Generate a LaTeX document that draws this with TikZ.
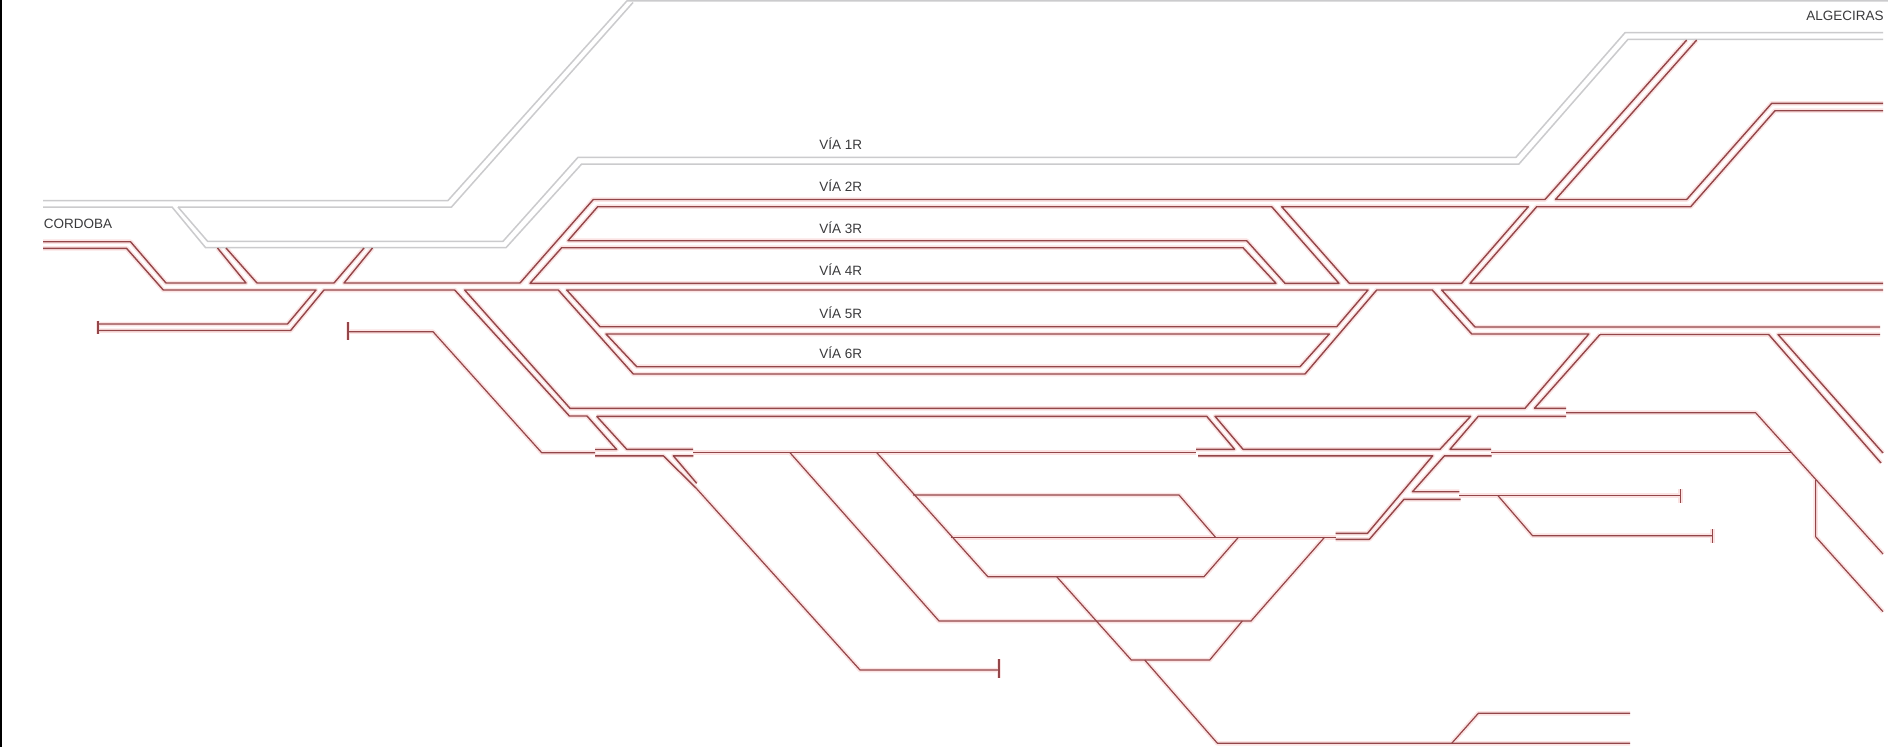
\documentclass[tikz,border=0pt]{standalone}
\usepackage{fontspec}
\setmainfont{Liberation Sans}
\definecolor{railc}{HTML}{934649}
\definecolor{railh}{HTML}{FBE3E3}
\definecolor{greyc}{HTML}{CBCBCD}
\definecolor{texc}{HTML}{3A3A3C}
\pgfdeclarelayer{halolayer}
\pgfsetlayers{halolayer,main}
\tikzset{
  rail/.style={draw=railc,line width=1.4pt,line join=round},
  thin rail/.style={draw=railc,line width=1.2pt,line join=round},
  halo/.style={draw=railh,line width=4.5pt,line join=round},
  grey rail/.style={draw=greyc,line width=1.5pt,line join=round},
  lab/.style={font=\fontsize{13.5}{14}\selectfont,text=texc,inner sep=0pt}
}
\newcommand\trk[1]{\begin{pgfonlayer}{halolayer}\path[halo] #1;\end{pgfonlayer}\path[rail] #1;}
\newcommand\sgl[1]{\begin{pgfonlayer}{halolayer}\path[halo] #1;\end{pgfonlayer}\path[thin rail] #1;}
\begin{document}
\begin{tikzpicture}[x=1pt,y=-1pt]
\useasboundingbox (0,0) rectangle (1888,747);
\begin{pgfonlayer}{halolayer}
\fill[white] (0,0) rectangle (1888,747);
\end{pgfonlayer}
\draw[black,line width=2.5pt] (0.8,0) -- (0.8,747);
% grey tracks
\path[grey rail] (43,200.5) -- (448,200.5) -- (627,0.8) -- (1888,0.8);
\path[grey rail] (178,207) -- (451.5,207) -- (633,2.5);
\path[grey rail] (43,207) -- (172,207) -- (205.6,247.7) -- (506,247.7) -- (581.7,164) -- (1519,164) -- (1628,39.3) -- (1883,39.3);
\path[grey rail] (178,207) -- (207.6,241.3) -- (503,241.3) -- (578,157.3) -- (1516,157.3) -- (1625,32.7) -- (1883,32.7);
% main left
\trk{(43,241.7) -- (130.5,241.7) -- (166,283) -- (246,283) -- (217.5,248)}
\trk{(226,248) -- (257,283) -- (334,283) -- (364,248)}
\trk{(372.5,248) -- (344,283) -- (520,283) -- (593.3,199.5) -- (1545,199.5) -- (1686.7,40)}
\trk{(43,248.3) -- (126.5,248.3) -- (163.3,290) -- (316,290) -- (287.5,324) -- (98,324)}
\trk{(98,330.5) -- (290.6,330.5) -- (324,290) -- (454.7,290) -- (569.4,416) -- (587,416) -- (616.7,449.5) -- (595,449.5)}
\trk{(98,320.5) -- (98,333.5)}
% station tracks
\trk{(597.7,206.7) -- (1271.7,206.7) -- (1339,283.3) -- (1285,283.3) -- (1246.7,240.7) -- (568,240.7) -- cycle}
\trk{(561.7,247.7) -- (1243,247.7) -- (1276,283.3) -- (530,283.3) -- cycle}
\trk{(1281.7,206.7) -- (1349.3,283.3) -- (1461.7,283.3) -- (1528.3,206.7) -- cycle}
\trk{(1883,283.3) -- (1470,283.3) -- (1536.7,206.7) -- (1555,206.7)  -- (1690.7,206.7) -- (1775,110.7) -- (1883,110.7)}
\trk{(1696.7,40) -- (1555.5,199.5) -- (1686.7,199.5) -- (1771.7,103.3) -- (1883,103.3)}
\trk{(464.6,290) -- (558.3,290) -- (633.3,374) -- (1305,374) -- (1376.7,290) -- (1432.3,290) -- (1471.7,334) -- (1588.8,334) -- (1525,408.3) -- (570,408.3) -- cycle}
\trk{(566.7,290) -- (1368,290) -- (1336.7,326.7) -- (600,326.7) -- cycle}
\trk{(606,334) -- (1329.3,334) -- (1300,366.7) -- (636.7,366.7) -- cycle}
\trk{(1883,290) -- (1441.7,290) -- (1475,327) -- (1880,327)}
\trk{(1880,334.5) -- (1778,334.5) -- (1883,453)}
\trk{(1600,334.5) -- (1768.7,334.5) -- (1881,463)}
\trk{(1600,334.5) -- (1534.4,408.3) -- (1566,408.3)}
\trk{(1566,416.3) -- (1478.3,416.3) -- (1450,449.3) -- (1491,449.3)}
\trk{(596.7,416.3) -- (626.7,449.3) -- (693,449.3)}
\trk{(596.7,416.3) -- (1206.7,416.3) -- (1234.6,449.3) -- (1196,449.3)}
\trk{(1215,416.3) -- (1470.6,416.3) -- (1440,449.3) -- (1243,449.3) -- cycle}
\trk{(595,455.8) -- (663.3,455.8) -- (696,488)}
\trk{(693.3,455.8) -- (673.3,455.8) -- (696.7,483.3)}
\trk{(1198,455.8) -- (1432.7,455.8) -- (1367.5,533.3) -- (1335.6,533.3)}
\trk{(1491.7,455.8) -- (1444.4,455.8) -- (1412.5,491.7) -- (1459.4,491.7)}
\trk{(1460.5,499.3) -- (1404,499.3) -- (1369.4,539.3) -- (1335.6,539.3)}
% single lines
\sgl{(348,322) -- (348,340)}
\sgl{(348,331.7) -- (433,331.7) -- (541.7,452.7) -- (595,452.7)}
\sgl{(693,452.7) -- (1196.3,452.7)}
\sgl{(790,452.7) -- (939,621) -- (1251,621) -- (1324.5,537.3)}
\sgl{(876.8,452.7) -- (987.8,576.7) -- (1204,576.7) -- (1238.4,537.3)}
\sgl{(913,495) -- (1179,495) -- (1215.5,537.3)}
\sgl{(951.4,537.3) -- (1336,537.3)}
\sgl{(1056.7,576.7) -- (1131.3,660) -- (1209.7,660) -- (1242.3,621)}
\sgl{(1144.7,660) -- (1217.4,743.3) -- (1630,743.3)}
\sgl{(1451.7,743.3) -- (1478.3,713.3) -- (1630,713.3)}
\sgl{(696,488) -- (860,670) -- (999,670)}
\sgl{(999,659) -- (999,678)}
\sgl{(1459.4,495.7) -- (1680.6,495.7)}
\sgl{(1680.6,489) -- (1680.6,503)}
\sgl{(1498,495.7) -- (1532.5,535.7) -- (1712.5,535.7)}
\sgl{(1712.5,529) -- (1712.5,543)}
\sgl{(1491,452.7) -- (1791,452.7)}
\sgl{(1566,412.7) -- (1755.6,412.7) -- (1883,554)}
\sgl{(1815.6,480) -- (1815.6,536.7) -- (1883,611.7)}
% labels
\node[lab] (cordoba) at (78,224) {CORDOBA};
\node[lab] (algeciras) at (1845,16) {ALGECIRAS};
\node[lab] (v1) at (840.7,143.5) {VÍA 1R};
\node[lab] (v2) at (840.7,186) {VÍA 2R};
\node[lab] (v3) at (840.7,227.5) {VÍA 3R};
\node[lab] (v4) at (840.7,269.5) {VÍA 4R};
\node[lab] (v5) at (840.7,313) {VÍA 5R};
\node[lab] (v6) at (840.7,353) {VÍA 6R};
\end{tikzpicture}
\end{document}
